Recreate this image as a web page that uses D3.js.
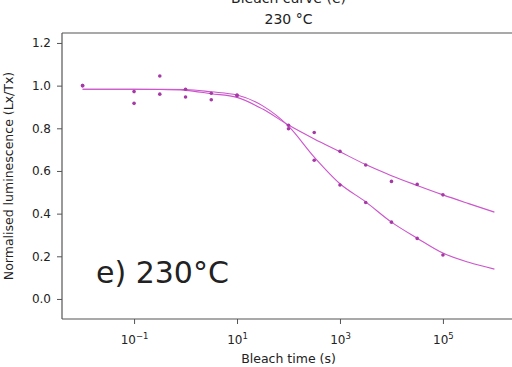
<!DOCTYPE html>
<html><head><meta charset="utf-8">
<script src="https://cdn.jsdelivr.net/npm/d3@7"></script>
<style>
html,body{margin:0;padding:0;background:#fff;}
svg{display:block;}
text{font-family:"DejaVu Sans",sans-serif;fill:#222;}
</style></head>
<body>
<script>
// ---- data ----
const pointTimes = [0.01, 0.1, 0.316, 1, 3.16, 10, 100, 316, 1000, 3162, 10000, 31623, 100000];
const pointsSteep = [1.0, 0.917, 0.96, 0.947, 0.934, 0.953, 0.798, 0.650, 0.534, 0.452, 0.360, 0.284, 0.206];
const pointsSlow  = [1.0, 0.972, 1.045, 0.983, 0.964, 0.956, 0.814, 0.780, 0.692, 0.628, 0.551, 0.537, 0.488];

const curveTimes = [0.01, 0.0316, 0.1, 0.316, 1, 3.16, 10, 31.6, 100, 316, 1000, 3162, 10000, 31623, 100000, 316228, 1000000];
const curveSteep = [0.983, 0.983, 0.983, 0.983, 0.982, 0.971, 0.956, 0.905, 0.81, 0.665, 0.54, 0.455, 0.36, 0.285, 0.215, 0.172, 0.14];
const curveSlow  = [0.983, 0.983, 0.983, 0.982, 0.978, 0.962, 0.945, 0.89, 0.815, 0.75, 0.69, 0.63, 0.578, 0.532, 0.488, 0.447, 0.407];

const xTicks = [0.1, 10, 1000, 100000];
const xTickExp = ["\u22121", "1", "3", "5"];
const yTicks = [0.0, 0.2, 0.4, 0.6, 0.8, 1.0, 1.2];

const titleText = "230 \u00b0C";
const upperTitle = "Bleach curve (e)";
const annotation = "e) 230\u00b0C";
const xLabel = "Bleach time (s)";
const yLabel = "Normalised luminescence (Lx/Tx)";

// ---- layout ----
const W = 512, H = 367;
const L = 62, R = 515, T = 33, B = 319;

const svg = d3.select("body").append("svg").attr("width", W).attr("height", H);

const x = d3.scaleLog().domain([Math.pow(10, -2.4), Math.pow(10, 6.4)]).range([L, R]);
const y = d3.scaleLinear().domain([-0.1, 1.25]).range([B + 1.3, T - 0.7]);

const lineColor = "#cc55cc";
const markColor = "#a53aa5";

// frame
const frame = svg.append("g");
frame.append("line").attr("x1", L).attr("x2", R).attr("y1", T).attr("y2", T).attr("stroke", "#555").attr("stroke-width", 1.2);
frame.append("line").attr("x1", L).attr("x2", R).attr("y1", B).attr("y2", B).attr("stroke", "#555").attr("stroke-width", 1.2);
frame.append("line").attr("x1", L).attr("x2", L).attr("y1", T).attr("y2", B).attr("stroke", "#555").attr("stroke-width", 1.2);
frame.append("line").attr("x1", R).attr("x2", R).attr("y1", T).attr("y2", B).attr("stroke", "#555").attr("stroke-width", 1.2);

// y axis
const yAxis = d3.axisLeft(y).tickValues(yTicks).tickFormat(d3.format(".1f")).tickSize(5).tickPadding(6);
const gy = svg.append("g").attr("transform", `translate(${L},0)`).call(yAxis);
gy.select(".domain").remove();
gy.selectAll(".tick line").attr("stroke", "#555");
gy.selectAll(".tick text").attr("font-size", 12).attr("font-family", "DejaVu Sans").attr("fill", "#333");

// x axis
const xAxis = d3.axisBottom(x).tickValues(xTicks).tickFormat(() => "").tickSize(5);
const gx = svg.append("g").attr("transform", `translate(0,${B})`).call(xAxis);
gx.select(".domain").remove();
gx.selectAll(".tick line").attr("stroke", "#555");
gx.selectAll(".tick").each(function(d, i) {
  const t = d3.select(this).append("text").attr("y", 25).attr("text-anchor", "middle")
    .attr("font-size", 12).attr("fill", "#333").attr("font-family", "DejaVu Sans");
  t.append("tspan").text("10");
  t.append("tspan").attr("dy", -5).attr("font-size", 8.5).text(xTickExp[i]);
});

// labels
svg.append("text").attr("x", (L + R) / 2).attr("y", 363).attr("text-anchor", "middle")
  .attr("font-size", 12.5).attr("fill", "#333").text(xLabel);
svg.append("text").attr("transform", `translate(13,${(T + B) / 2}) rotate(-90)`).attr("text-anchor", "middle")
  .attr("font-size", 12.5).attr("fill", "#333").text(yLabel);
svg.append("text").attr("x", (L + R) / 2).attr("y", 24).attr("text-anchor", "middle")
  .attr("font-size", 14).text(titleText);
svg.append("text").attr("x", (L + R) / 2).attr("y", 3).attr("text-anchor", "middle")
  .attr("font-size", 14).text(upperTitle);

// curves
const line = d3.line().x(d => x(d[0])).y(d => y(d[1])).curve(d3.curveMonotoneX);
[curveSteep, curveSlow].forEach(vals => {
  svg.append("path").datum(curveTimes.map((t, i) => [t, vals[i]]))
    .attr("d", line).attr("fill", "none").attr("stroke", lineColor).attr("stroke-width", 1.1);
});

// points
[pointsSteep, pointsSlow].forEach(vals => {
  svg.append("g").selectAll("circle").data(pointTimes.map((t, i) => [t, vals[i]])).join("circle")
    .attr("cx", d => x(d[0])).attr("cy", d => y(d[1])).attr("r", 1.8).attr("fill", markColor);
});

// annotation
svg.append("text").attr("x", 96).attr("y", 283).attr("font-family", "Liberation Sans, Arial, sans-serif")
  .attr("font-size", 30).attr("fill", "#111").text(annotation);
</script>
</body></html>
